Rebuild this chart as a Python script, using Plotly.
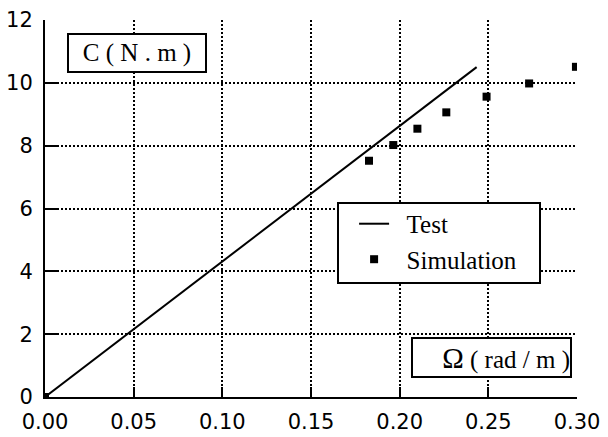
import plotly.graph_objects as go

# Data
test_x = [0.0, 0.2434]
test_y = [0.0, 10.5]
sim_x = [0.0, 0.1827, 0.1964, 0.2100, 0.2263, 0.2490, 0.2730, 0.2994]
sim_y = [0.0, 7.52, 8.02, 8.54, 9.06, 9.56, 9.98, 10.51]
x_ticks = [0.00, 0.05, 0.10, 0.15, 0.20, 0.25, 0.30]
x_labels = ["0.00", "0.05", "0.10", "0.15", "0.20", "0.25", "0.30"]
y_ticks = [0, 2, 4, 6, 8, 10, 12]
y_labels = ["0", "2", "4", "6", "8", "10", "12"]

fig = go.Figure()
fig.add_trace(go.Scatter(x=test_x, y=test_y, mode="lines", name="\u00a0\u00a0Test",
                         line=dict(color="black", width=2)))
fig.add_trace(go.Scatter(x=sim_x, y=sim_y, mode="markers", name="\u00a0\u00a0Simulation",
                         marker=dict(symbol="square", size=8, color="black")))

serif = "Liberation Serif, Times New Roman, serif"
tickfont = dict(family="DejaVu Sans, sans-serif", size=21, color="black")

fig.update_layout(
    width=608, height=437,
    margin=dict(l=45, r=31, t=20, b=40),
    paper_bgcolor="white", plot_bgcolor="white",
    showlegend=True,
    legend=dict(x=0.581, y=0.52, xanchor="left", yanchor="top",
                bgcolor="rgba(0,0,0,0)", borderwidth=0,
                font=dict(family=serif, size=25, color="black"),
                itemwidth=30, tracegroupgap=0),
    xaxis=dict(range=[0, 0.30], tickvals=x_ticks, ticktext=x_labels,
               showline=True, linecolor="black", linewidth=2,
               ticks="inside", ticklen=10, tickwidth=2, tickcolor="black",
               showgrid=True, gridcolor="black", gridwidth=2, griddash="2px,2px",
               zeroline=False, tickfont=tickfont, ticklabelstandoff=5,
               automargin=False),
    yaxis=dict(range=[0, 12], tickvals=y_ticks, ticktext=y_labels,
               showline=True, linecolor="black", linewidth=2,
               ticks="inside", ticklen=12, tickwidth=2, tickcolor="black",
               showgrid=True, gridcolor="black", gridwidth=2, griddash="2px,2px",
               zeroline=False, tickfont=tickfont, ticklabelstandoff=6,
               automargin=False),
    shapes=[
        dict(type="rect", xref="paper", yref="paper",
             x0=(338 - 45) / 532, x1=(540 - 45) / 532,
             y0=(397 - 283) / 377, y1=(397 - 203) / 377,
             fillcolor="white", line=dict(color="black", width=2), layer="above"),
    ],
    annotations=[
        dict(x=0.173, y=0.9125, xref="paper", yref="paper", showarrow=False,
             text="C ( N . m )", font=dict(family=serif, size=25, color="black"),
             bgcolor="white", bordercolor="black", borderwidth=2, borderpad=0,
             width=136, height=36, xanchor="center", yanchor="middle"),
        dict(x=0.839, y=0.1048, xref="paper", yref="paper", showarrow=False,
             text="<span style='font-size:29px'>Ω</span> ( rad / m )",
             font=dict(family=serif, size=25, color="black"),
             bgcolor="white", bordercolor="black", borderwidth=2, borderpad=0,
             width=157, height=37, xanchor="center", yanchor="middle", align="right"),
    ],
)

fig.write_html("out.html", config={"displayModeBar": False},
               post_script="document.body.style.margin='0';document.body.style.overflow='hidden';")
